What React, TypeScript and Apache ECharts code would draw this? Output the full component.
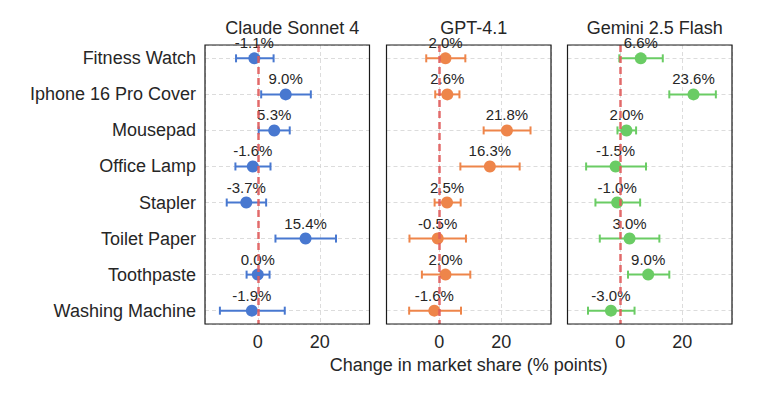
import React, { useEffect, useRef } from "react";
import * as echarts from "echarts";

const categories = [
  "Fitness Watch",
  "Iphone 16 Pro Cover",
  "Mousepad",
  "Office Lamp",
  "Stapler",
  "Toilet Paper",
  "Toothpaste",
  "Washing Machine",
];

const models = ["Claude Sonnet 4", "GPT-4.1", "Gemini 2.5 Flash"];
const modelColors = ["#4878d0", "#ee854a", "#6acc64"];

const claudeMean = [-1.1, 9.0, 5.3, -1.6, -3.7, 15.4, 0.0, -1.9];
const claudeLow = [-7.0, 1.1, 0.3, -7.2, -10.0, 5.7, -3.6, -12.2];
const claudeHigh = [5.1, 17.1, 10.3, 4.1, 2.7, 25.2, 3.8, 8.7];

const gptMean = [2.0, 2.6, 21.8, 16.3, 2.5, -0.5, 2.0, -1.6];
const gptLow = [-4.2, -1.3, 14.3, 6.8, -1.5, -9.6, -5.6, -9.7];
const gptHigh = [8.4, 6.5, 29.4, 25.9, 6.9, 8.6, 10.0, 7.0];

const geminiMean = [6.6, 23.6, 2.0, -1.5, -1.0, 3.0, 9.0, -3.0];
const geminiLow = [-0.3, 15.8, -0.9, -11.0, -8.0, -6.6, 2.5, -10.4];
const geminiHigh = [13.7, 30.8, 5.1, 8.3, 6.4, 12.6, 15.8, 4.6];

const means = [claudeMean, gptMean, geminiMean];
const lows = [claudeLow, gptLow, geminiLow];
const highs = [claudeHigh, gptHigh, geminiHigh];

const xMin = -17;
const xMax = 36;
const xTickStep = 20;
const xTitle = "Change in market share (% points)";

const FONT = "'Liberation Sans', Arial, Helvetica, sans-serif";

export default function App() {
  const ref = useRef<HTMLDivElement>(null);

  useEffect(() => {
    document.body.style.margin = "0";
    if (!ref.current) return;
    const chart = echarts.init(ref.current, undefined, { renderer: "svg" });

    const gridLefts = [205, 386.5, 567.5];
    const gridWidth = 164.5;
    const gridTop = 45;
    const gridHeight = 279;
    const rowPad = 0.37;

    const grids = gridLefts.map((l) => ({
      left: l,
      top: gridTop,
      width: gridWidth,
      height: gridHeight,
      show: false,
    }));

    const xAxes = models.map((_, i) => ({
      type: "value",
      gridIndex: i,
      min: xMin,
      max: xMax,
      splitNumber: 3,
      axisLine: { show: false },
      axisTick: { show: false },
      axisLabel: {
        margin: 9,
        fontSize: 18,
        fontFamily: FONT,
        color: "#262626",
        formatter: (v: number) => (v % xTickStep === 0 ? String(v) : ""),
      },
      splitLine: {
        show: true,
        lineStyle: { color: "#d3d3d3", type: [4, 3], width: 0.8 },
      },
      name: i === 1 ? xTitle : "",
      nameLocation: "middle",
      nameGap: 31,
      nameTextStyle: { fontSize: 18, fontFamily: FONT, color: "#262626" },
    }));

    const yAxes = models.map((_, i) => ({
      type: "value",
      gridIndex: i,
      min: -rowPad,
      max: categories.length - 1 + rowPad,
      splitNumber: 8,
      inverse: true,
      axisLine: { show: false },
      axisTick: { show: false },
      axisLabel: {
        show: i === 0,
        margin: 9,
        fontSize: 18,
        fontFamily: FONT,
        color: "#262626",
        formatter: (v: number) =>
          Number.isInteger(v) && v >= 0 && v < categories.length ? categories[v] : "",
      },
      splitLine: {
        show: true,
        lineStyle: { color: "#d3d3d3", type: [4, 3], width: 0.8 },
      },
    }));

    const series: any[] = [];
    models.forEach((m, i) => {
      const color = modelColors[i];
      series.push({
        type: "scatter",
        xAxisIndex: i,
        yAxisIndex: i,
        data: [],
        z: 1,
        silent: true,
        markLine: {
          silent: true,
          symbol: ["none", "none"],
          label: { show: false },
          lineStyle: { color: "#e05c5c", type: [7, 4], width: 2.5, opacity: 0.9 },
          data: [{ xAxis: 0 }],
        },
      });
      series.push({
        type: "custom",
        name: m + " CI",
        xAxisIndex: i,
        yAxisIndex: i,
        z: 2,
        silent: true,
        encode: { x: [0, 1], y: 2 },
        data: categories.map((_, k) => [lows[i][k], highs[i][k], k]),
        renderItem: (params: any, api: any) => {
          const p1 = api.coord([api.value(0), api.value(2)]);
          const p2 = api.coord([api.value(1), api.value(2)]);
          const cap = 4;
          const style = { stroke: color, lineWidth: 2 };
          return {
            type: "group",
            children: [
              { type: "line", shape: { x1: p1[0], y1: p1[1], x2: p2[0], y2: p2[1] }, style },
              { type: "line", shape: { x1: p1[0], y1: p1[1] - cap, x2: p1[0], y2: p1[1] + cap }, style },
              { type: "line", shape: { x1: p2[0], y1: p2[1] - cap, x2: p2[0], y2: p2[1] + cap }, style },
            ],
          };
        },
      });
      series.push({
        type: "scatter",
        name: m,
        xAxisIndex: i,
        yAxisIndex: i,
        z: 3,
        symbol: "circle",
        symbolSize: 12,
        itemStyle: { color, opacity: 1 },
        data: categories.map((_, k) => [means[i][k], k]),
        label: {
          show: true,
          position: "top",
          distance: 2,
          fontSize: 15,
          fontFamily: FONT,
          color: "#262626",
          formatter: (p: any) => p.value[0].toFixed(1) + "%",
        },
      });
    });

    const titleCenters = gridLefts.map((l) => l + gridWidth / 2);

    chart.setOption({
      animation: false,
      backgroundColor: "#ffffff",
      title: models.map((m, i) => ({
        text: m,
        left: titleCenters[i],
        top: 14,
        textAlign: "center",
        textStyle: { fontSize: 18, fontWeight: "normal", fontFamily: FONT, color: "#262626" },
      })),
      grid: grids,
      xAxis: xAxes,
      yAxis: yAxes,
      series,
      graphic: gridLefts.map((l) => ({
        type: "rect",
        z: 100,
        silent: true,
        shape: { x: l, y: gridTop, width: gridWidth, height: gridHeight },
        style: { fill: "none", stroke: "#1a1a1a", lineWidth: 1.2 },
      })),
    });

    return () => chart.dispose();
  }, []);

  return <div ref={ref} style={{ width: 781, height: 396 }} />;
}
